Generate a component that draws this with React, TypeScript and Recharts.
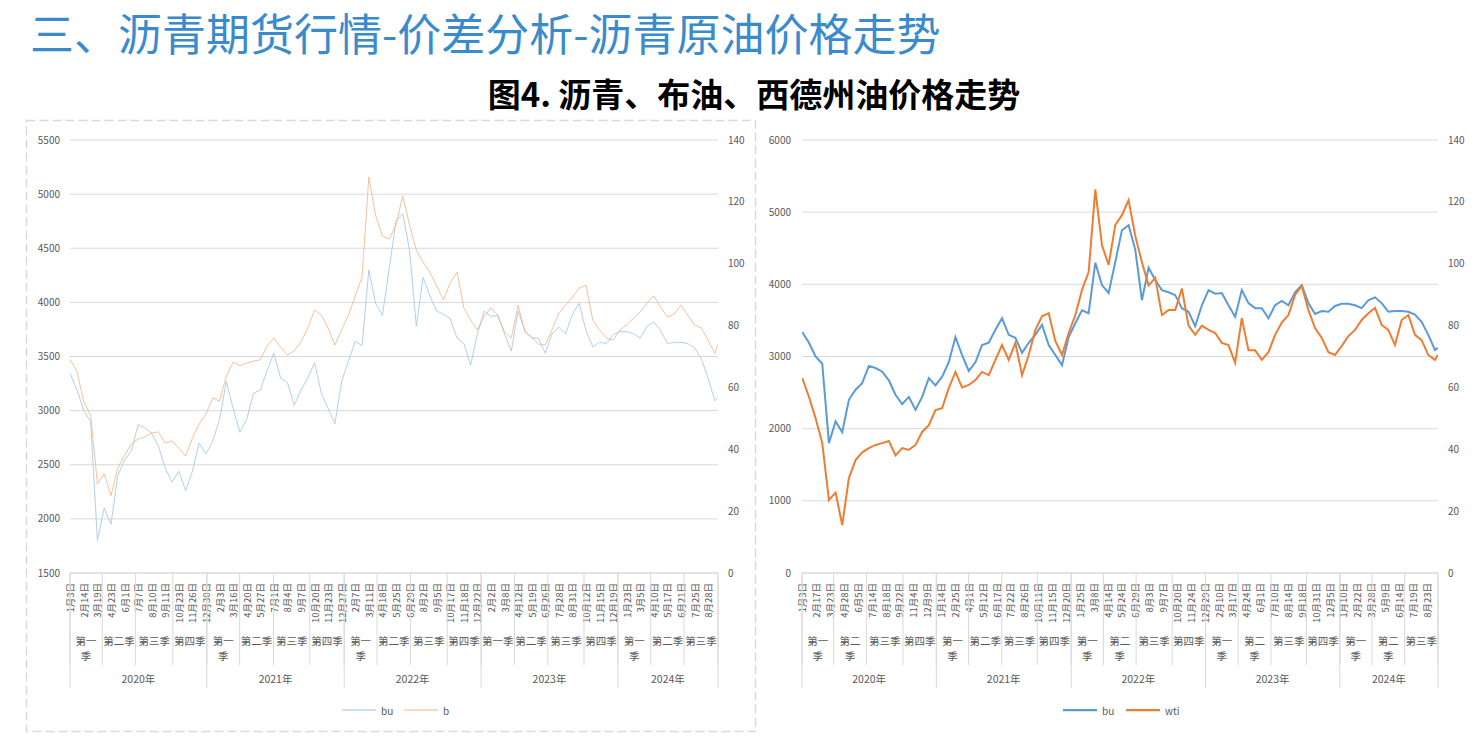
import React from 'react';
import { LineChart, Line, XAxis, YAxis, CartesianGrid } from 'recharts';

// trading-day index of every sampled point (0 = 2020-01-03, 1145 = 2024-09-24)
const dayIdx = [
  0, 12, 24, 36, 48, 60, 72, 84, 96, 108, 120, 132, 144, 156, 168, 180, 192, 204, 216, 228,
  240, 252, 264, 276, 288, 300, 312, 324, 336, 348, 360, 372, 384, 396, 408, 420, 432, 444, 456, 468,
  480, 492, 504, 516, 528, 540, 552, 564, 576, 588, 600, 612, 624, 636, 648, 660, 672, 684, 696, 708,
  720, 732, 744, 756, 768, 780, 792, 804, 816, 828, 840, 852, 864, 876, 888, 900, 912, 924, 936, 948,
  960, 972, 984, 996, 1008, 1020, 1032, 1044, 1056, 1068, 1080, 1092, 1104, 1116, 1128, 1140, 1145,
];
const lastDay = 1145;

// 沥青期货 bu (元/吨)
const buPrice = [
  3340, 3190, 3000, 2900, 1800, 2100, 1950, 2400, 2540, 2630,
  2870, 2840, 2790, 2670, 2470, 2340, 2440, 2260, 2440, 2700,
  2600, 2720, 2920, 3270, 3020, 2800, 2920, 3160, 3190, 3370,
  3530, 3300, 3260, 3050, 3190, 3300, 3440, 3160, 3020, 2880,
  3270, 3460, 3640, 3600, 4300, 3990, 3880, 4310, 4750, 4820,
  4480, 3780, 4230, 4060, 3920, 3890, 3850, 3670, 3620, 3420,
  3710, 3920, 3870, 3880, 3710, 3550, 3920, 3740, 3670, 3670,
  3530, 3710, 3770, 3710, 3890, 3990, 3740, 3590, 3630, 3620,
  3700, 3730, 3730, 3710, 3670, 3780, 3820, 3740, 3620, 3630,
  3630, 3620, 3580, 3480, 3300, 3090, 3120,
];

// 布伦特原油 b (美元/桶)
const brentPrice = [
  68.9, 65, 55.3, 51, 28.8, 32, 25, 34, 38, 41.7,
  43.3, 44, 45.3, 45.6, 42, 42.7, 40.4, 37.8, 43.6, 48.2,
  51.4, 56.6, 55.6, 63.7, 68.2, 67, 67.9, 68.5, 68.9, 73.4,
  76, 73, 70.5, 71.8, 74.7, 79.2, 85, 83.4, 79.2, 73.7,
  78.6, 83.4, 89.6, 95.7, 128, 115.7, 109, 108, 112.5, 122,
  112.5, 104.4, 100.5, 97.3, 92.8, 88.3, 93.8, 97.3, 85.7, 81.8,
  78.6, 83, 85.7, 83.4, 77.9, 76, 86.6, 77.9, 76.3, 74,
  73.7, 78.6, 84, 86.6, 89.2, 92.1, 93.1, 81.8, 78.6, 76,
  75.3, 78.6, 80.2, 82.4, 84.4, 87.3, 89.6, 86, 82.8, 83.7,
  86.6, 83.4, 80.2, 79.2, 75.3, 71, 73.7,
];

// 西德州原油 wti (美元/桶)
const wtiPrice = [
  63, 57, 50, 42, 23.6, 26, 15.5, 30.7, 36.5, 39,
  40.4, 41.4, 42, 42.7, 38, 40.4, 39.8, 41.4, 45.6, 47.8,
  52.7, 53.3, 59.8, 65, 60, 60.8, 62.4, 65, 64, 68.9,
  73.7, 68.9, 74.4, 64, 70.5, 78.6, 83, 84, 75, 70.5,
  77.6, 83.4, 91.5, 97.3, 124, 106, 99.6, 112.5, 115.7, 120.6,
  109, 100.5, 93, 95.4, 83.4, 85, 85, 92, 80, 77,
  80, 78.6, 77.6, 74.4, 73.7, 68, 82.4, 72, 72, 68.9,
  71.4, 77, 81, 83.4, 89.9, 92.8, 85, 79.2, 76, 71.4,
  70.5, 73.4, 76.6, 78.6, 81.8, 84, 85.7, 80.2, 78.6, 73.7,
  81.8, 83.4, 77, 75.3, 70.5, 68.9, 70.5,
];

// date labels Excel shows on the category axis (every 24th / 25th trading day)
const leftDateLabels = [
  '1月3日', '2月14日', '3月19日', '4月23日', '6月1日', '7月7日', '8月10日', '9月11日', '10月23日', '11月26日', '12月30日',
  '2月3日', '3月16日', '4月20日', '5月27日', '7月1日', '8月4日', '9月7日', '10月20日', '11月23日', '12月27日',
  '2月7日', '3月11日', '4月18日', '5月25日', '6月29日', '8月2日', '9月5日', '10月17日', '11月18日', '12月22日',
  '2月2日', '3月8日', '4月12日', '5月19日', '6月26日', '7月28日', '8月31日', '10月12日', '11月15日', '12月19日',
  '1月23日', '3月5日', '4月10日', '5月17日', '6月21日', '7月25日', '8月28日',
];
const rightDateLabels = [
  '1月3日', '2月17日', '3月23日', '4月28日', '6月5日', '7月14日', '8月18日', '9月22日', '11月4日', '12月9日',
  '1月14日', '2月25日', '4月1日', '5月12日', '6月17日', '7月22日', '8月26日', '10月11日', '11月15日', '12月20日',
  '1月25日', '3月8日', '4月14日', '5月24日', '6月29日', '8月3日', '9月7日', '10月20日', '11月24日', '12月29日',
  '2月10日', '3月17日', '4月24日', '6月1日', '7月10日', '8月14日', '9月18日', '10月31日', '12月5日',
  '1月10日', '2月22日', '3月28日', '5月9日', '6月14日', '7月19日', '8月23日',
];

const quarterStarts = [0, 57, 116, 182, 242, 300, 360, 424, 485, 543, 602, 667, 727, 786, 845, 909, 969, 1027, 1086];
const quarterNames = ['第一季', '第二季', '第三季', '第四季'];
const yearStarts = [0, 242, 485, 727, 969];
const yearNames = ['2020年', '2021年', '2022年', '2023年', '2024年'];

const leftTicks = [1500, 2000, 2500, 3000, 3500, 4000, 4500, 5000, 5500];
const rightChartTicks = [0, 1000, 2000, 3000, 4000, 5000, 6000];
const oilTicks = [0, 20, 40, 60, 80, 100, 120, 140];

const FONT = "'Noto Sans CJK SC', 'Noto Sans', sans-serif";
const TEXT_GRAY = '#595959';
const LINE_GRAY = '#D9D9D9';
const DOMAIN: [number, number] = [-0.5, lastDay + 0.5];

type Group = { start: number; end: number; label: string };

const makeGroups = (starts: number[], names: (i: number) => string): Group[] =>
  starts.map((s, i) => ({
    start: s,
    end: i + 1 < starts.length ? starts[i + 1] : lastDay + 1,
    label: names(i),
  }));

const quarterGroups = makeGroups(quarterStarts, (i) => quarterNames[i % 4]);
const yearGroups = makeGroups(yearStarts, (i) => yearNames[i]);

const center = (g: Group) => (g.start + g.end - 1) / 2;
const groupTicks = (groups: Group[]) =>
  [...groups.map(center), ...groups.map((g) => g.start - 0.5), lastDay + 0.5].sort((a, b) => a - b);

const leftData = dayIdx.map((d, i) => ({ d, bu: buPrice[i], b: brentPrice[i] }));
const rightData = dayIdx.map((d, i) => ({ d, bu: buPrice[i], wti: wtiPrice[i] }));

const dateTick = (labels: string[], step: number) => (props: any) => {
  const { x, y, payload } = props;
  const text = labels[Math.round(payload.value / step)];
  return (
    <text
      x={x}
      y={y}
      transform={`rotate(-90 ${x} ${y})`}
      textAnchor="end"
      dominantBaseline="central"
      fontSize={9.5}
      fontFamily={FONT}
      fill={TEXT_GRAY}
    >
      {text}
    </text>
  );
};

// tick renderer for the quarter / year rows: separators at boundaries, text at centres
const groupTick = (groups: Group[], up: number, down: number, textDy: number, pxPerDay: number) => {
  const byCenter = new Map(groups.map((g) => [center(g), g]));
  return (props: any) => {
    const { x, y, payload } = props;
    const g = byCenter.get(payload.value);
    if (!g) {
      return <line x1={x} x2={x} y1={y - up} y2={y + down} stroke={LINE_GRAY} strokeWidth={1} />;
    }
    const wrap = g.label.length === 3 && (g.end - g.start) * pxPerDay < 33;
    const common = { textAnchor: 'middle' as const, fontSize: 10.5, fontFamily: FONT, fill: TEXT_GRAY, dominantBaseline: 'central' as const };
    if (wrap) {
      return (
        <g>
          <text x={x} y={y + textDy} {...common}>{g.label.slice(0, 2)}</text>
          <text x={x} y={y + textDy + 15} {...common}>{g.label.slice(2)}</text>
        </g>
      );
    }
    return <text x={x} y={y + textDy} {...common}>{g.label}</text>;
  };
};

interface PanelProps {
  left: number;
  width: number;
  data: any[];
  leftAxis: { ticks: number[]; width: number; margin: number };
  rightAxisWidth: number;
  labels: string[];
  labelStep: number;
  series: { key: string; color: string; width: number; axis: string }[];
}

const Panel: React.FC<PanelProps> = ({ left, width, data, leftAxis, rightAxisWidth, labels, labelStep, series }) => {
  const plotW = width - leftAxis.width - rightAxisWidth;
  const pxPerDay = plotW / (lastDay + 1);
  const labelTicks = labels.map((_, i) => i * labelStep);
  const tickStyle = { fontSize: 10, fill: TEXT_GRAY, fontFamily: FONT };
  return (
    <div style={{ position: 'absolute', left, top: 120 }}>
      <LineChart width={width} height={612} data={data} margin={{ top: 20, right: 0, bottom: 42, left: 0 }}>
        <CartesianGrid vertical={false} stroke={LINE_GRAY} xAxisId="d" yAxisId="l" />
        <XAxis
          xAxisId="d"
          dataKey="d"
          type="number"
          domain={DOMAIN}
          allowDataOverflow
          ticks={labelTicks}
          interval={0}
          height={62}
          tickSize={0}
          tickMargin={10}
          tickLine={false}
          axisLine={{ stroke: LINE_GRAY }}
          tick={dateTick(labels, labelStep)}
        />
        <XAxis
          xAxisId="q"
          dataKey="d"
          type="number"
          domain={DOMAIN}
          allowDataOverflow
          ticks={groupTicks(quarterGroups)}
          interval={0}
          height={30}
          tickSize={0}
          tickMargin={0}
          tickLine={false}
          axisLine={false}
          tick={groupTick(quarterGroups, 62, 30, 5, pxPerDay)}
        />
        <XAxis
          xAxisId="y"
          dataKey="d"
          type="number"
          domain={DOMAIN}
          allowDataOverflow
          ticks={groupTicks(yearGroups)}
          interval={0}
          height={25}
          tickSize={0}
          tickMargin={0}
          tickLine={false}
          axisLine={false}
          tick={groupTick(yearGroups, 92, 23, 13, pxPerDay)}
        />
        <YAxis
          yAxisId="l"
          domain={[leftAxis.ticks[0], leftAxis.ticks[leftAxis.ticks.length - 1]]}
          ticks={leftAxis.ticks}
          interval={0}
          width={leftAxis.width}
          axisLine={false}
          tickLine={false}
          tickSize={0}
          tickMargin={leftAxis.margin}
          tick={tickStyle}
        />
        <YAxis
          yAxisId="r"
          orientation="right"
          domain={[0, 140]}
          ticks={oilTicks}
          interval={0}
          width={rightAxisWidth}
          axisLine={false}
          tickLine={false}
          tickSize={0}
          tickMargin={10}
          tick={tickStyle}
        />
        {series.map((s) => (
          <Line
            key={s.key}
            xAxisId="d"
            yAxisId={s.axis}
            type="linear"
            dataKey={s.key}
            stroke={s.color}
            strokeWidth={s.width}
            dot={false}
            activeDot={false}
            isAnimationActive={false}
          />
        ))}
      </LineChart>
    </div>
  );
};

const LegendItem = ({ x, color, width, label }: { x: number; color: string; width: number; label: string }) => (
  <g>
    <line x1={x} x2={x + 34} y1={710} y2={710} stroke={color} strokeWidth={width} />
    <text x={x + 39} y={710} dominantBaseline="central" fontSize={10} fontFamily={FONT} fill={TEXT_GRAY}>
      {label}
    </text>
  </g>
);

export default function App() {
  return (
    <div style={{ position: 'absolute', left: 0, top: 0, width: 1480, height: 736, background: '#fff', overflow: 'hidden' }}>
      <div
        style={{
          position: 'absolute',
          left: 30,
          top: 0,
          lineHeight: 'normal',
          fontSize: 44,
          fontFamily: FONT,
          color: '#3A8BCB',
          whiteSpace: 'nowrap',
        }}
      >
        三、沥青期货行情-价差分析-沥青原油价格走势
      </div>
      <svg width={1480} height={736} style={{ position: 'absolute', left: 0, top: 0 }}>
        <text x={754} y={107} textAnchor="middle" fontSize={33} fontWeight={700} fontFamily={FONT} fill="#000">
          图4. 沥青、布油、西德州油价格走势
        </text>
        <rect x={26.5} y={120.5} width={729} height={611} fill="none" stroke={LINE_GRAY} strokeWidth={1.5} strokeDasharray="9 4" />
        <LegendItem x={342} color="#9DC3E6" width={1} label="bu" />
        <LegendItem x={404} color="#F4B183" width={1} label="b" />
        <LegendItem x={1063} color="#5B9BD5" width={2.25} label="bu" />
        <LegendItem x={1126} color="#ED7D31" width={2.25} label="wti" />
      </svg>
      <Panel
        left={26}
        width={730}
        data={leftData}
        leftAxis={{ ticks: leftTicks, width: 44, margin: 10 }}
        rightAxisWidth={38}
        labels={leftDateLabels}
        labelStep={24}
        series={[
          { key: 'bu', color: '#9DC3E6', width: 0.8, axis: 'l' },
          { key: 'b', color: '#F4B183', width: 0.8, axis: 'r' },
        ]}
      />
      <Panel
        left={760}
        width={720}
        data={rightData}
        leftAxis={{ ticks: rightChartTicks, width: 42, margin: 11 }}
        rightAxisWidth={42}
        labels={rightDateLabels}
        labelStep={25}
        series={[
          { key: 'bu', color: '#5B9BD5', width: 2, axis: 'l' },
          { key: 'wti', color: '#ED7D31', width: 2, axis: 'r' },
        ]}
      />
    </div>
  );
}
